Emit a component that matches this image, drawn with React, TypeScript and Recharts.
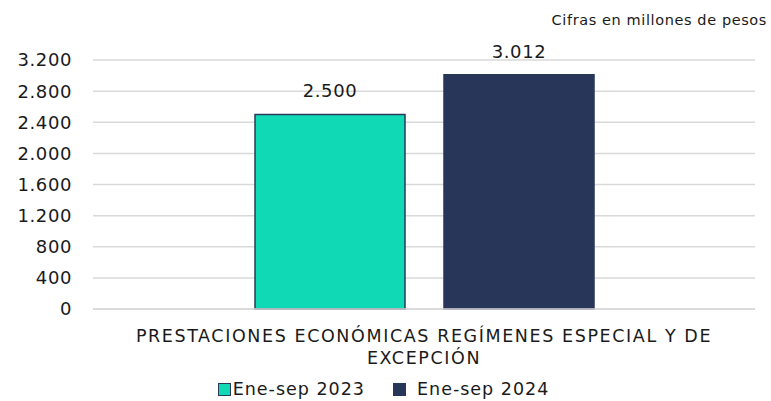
import React from "react";
import {
  BarChart,
  Bar,
  XAxis,
  YAxis,
  CartesianGrid,
  LabelList,
  Legend,
  Text,
} from "recharts";

const CATEGORIES = ["PRESTACIONES ECONÓMICAS REGÍMENES ESPECIAL Y DE EXCEPCIÓN"];
const SERIES_2023 = [2500];
const SERIES_2024 = [3012];
const Y_TICKS = [0, 400, 800, 1200, 1600, 2000, 2400, 2800, 3200];

const SERIES = [
  { key: "y2023", name: "Ene-sep 2023", color: "#10d9b6", stroke: "#2a3a5c" },
  { key: "y2024", name: "Ene-sep 2024", color: "#283659", stroke: "#283659" },
];

const FONT = "'DejaVu Sans', Verdana, sans-serif";

const data = CATEGORIES.map((name, i) => ({
  name,
  y2023: SERIES_2023[i],
  y2024: SERIES_2024[i],
}));

// thousands with a dot, as in the Spanish source
const fmt = (v: number) =>
  String(Math.round(v)).replace(/\B(?=(\d{3})+(?!\d))/g, ".");

const CategoryTick = (props: any) => {
  const { x, y, payload } = props;
  // width is measured without letter spacing, so keep it narrow enough to wrap
  return (
    <Text
      x={x}
      y={y + 13}
      width={520}
      textAnchor="middle"
      verticalAnchor="start"
      lineHeight={22}
      fontSize={17.5}
      letterSpacing={1.6}
      fontFamily={FONT}
      fill="#1a1a1a"
    >
      {payload.value}
    </Text>
  );
};

const LegendContent = () => (
  <div
    style={{
      display: "flex",
      justifyContent: "center",
      gap: 28,
      fontFamily: FONT,
      fontSize: 17.5,
      letterSpacing: 1,
      color: "#1a1a1a",
      paddingLeft: 12,
    }}
  >
    {SERIES.map((s) => (
      <div key={s.key} style={{ display: "flex", alignItems: "center", gap: 2 }}>
        <span
          style={{
            display: "inline-block",
            width: 11,
            height: 11,
            background: s.color,
            border: `1px solid ${s.stroke}`,
            marginRight: s.key === "y2024" ? 9 : 0,
          }}
        />
        <span>{s.name}</span>
      </div>
    ))}
  </div>
);

export default function App() {
  return (
    <div
      style={{
        position: "absolute",
        left: 0,
        top: 0,
        width: 771,
        height: 401,
        background: "#fff",
      }}
    >
      <div
        style={{
          position: "absolute",
          right: 4,
          top: 12,
          fontFamily: FONT,
          fontSize: 14.5,
          letterSpacing: 0.6,
          color: "#1a1a1a",
        }}
      >
        Cifras en millones de pesos
      </div>
      <BarChart
        width={771}
        height={401}
        data={data}
        margin={{ top: 60, right: 16, bottom: 0, left: 0 }}
        barSize={150}
        barGap={39}
      >
        <CartesianGrid vertical={false} stroke="#d9d9d9" strokeWidth={1.5} />
        <XAxis
          dataKey="name"
          tick={<CategoryTick />}
          tickLine={false}
          axisLine={{ stroke: "#d9d9d9", strokeWidth: 1.5 }}
          height={62}
          interval={0}
        />
        <YAxis
          domain={[0, 3200]}
          ticks={Y_TICKS}
          tickFormatter={fmt}
          axisLine={false}
          tickLine={false}
          tickSize={0}
          tickMargin={21}
          width={93}
          tick={{ fontSize: 18, letterSpacing: 0.6, fontFamily: FONT, fill: "#1a1a1a" }}
        />
        <Legend
          verticalAlign="bottom"
          content={<LegendContent />}
          wrapperStyle={{ height: 30, bottom: -8 }}
        />
        {SERIES.map((s) => (
          <Bar
            key={s.key}
            dataKey={s.key}
            name={s.name}
            fill={s.color}
            stroke={s.stroke}
            strokeWidth={1.5}
            isAnimationActive={false}
          >
            <LabelList
              dataKey={s.key}
              position="top"
              offset={17}
              formatter={(v: any) => fmt(Number(v))}
              style={{ fontSize: 18, letterSpacing: 0.6, fontFamily: FONT, fill: "#1a1a1a" }}
            />
          </Bar>
        ))}
      </BarChart>
    </div>
  );
}
